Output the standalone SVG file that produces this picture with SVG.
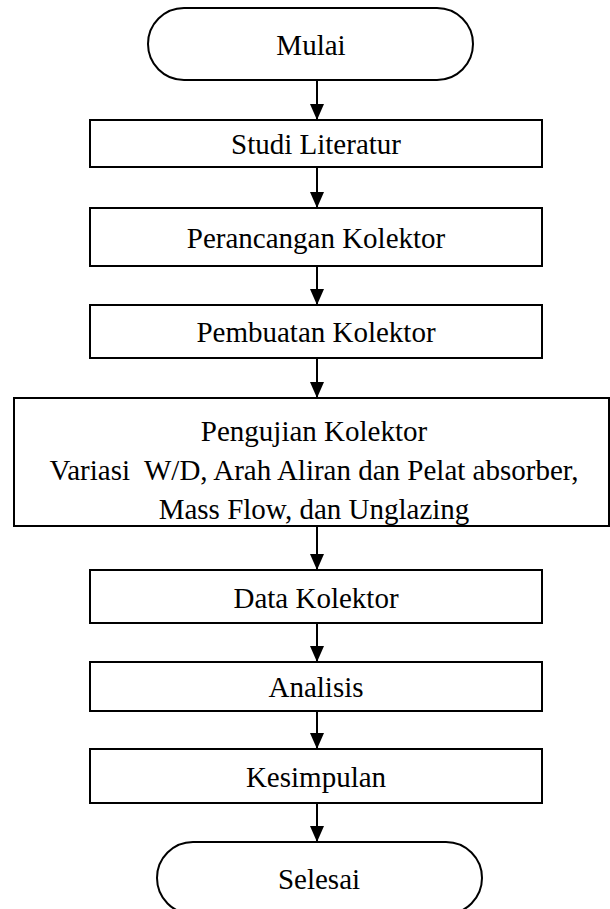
<svg xmlns="http://www.w3.org/2000/svg" width="610" height="909" viewBox="0 0 610 909">
<style>
.box{fill:#fff;stroke:#000;stroke-width:2}
.t{font-family:"Liberation Serif","Times New Roman",serif;font-size:29px;fill:#000;text-anchor:middle}
.c{stroke:#000;stroke-width:2;fill:none}
</style>
<defs>
<marker id="a" markerWidth="16" markerHeight="14" refX="16" refY="7" orient="auto" markerUnits="userSpaceOnUse" viewBox="0 0 16 14">
<path d="M0,0 L16,7 L0,14 Z" fill="#000"/>
</marker>
</defs>
<g id="connectors">
<line class="c" x1="317" y1="80" x2="317" y2="120" marker-end="url(#a)"/>
<line class="c" x1="317" y1="167" x2="317" y2="208" marker-end="url(#a)"/>
<line class="c" x1="317" y1="266" x2="317" y2="305" marker-end="url(#a)"/>
<line class="c" x1="317" y1="358" x2="317" y2="398" marker-end="url(#a)"/>
<line class="c" x1="317" y1="526" x2="317" y2="570" marker-end="url(#a)"/>
<line class="c" x1="317" y1="623" x2="317" y2="662" marker-end="url(#a)"/>
<line class="c" x1="317" y1="711" x2="317" y2="749" marker-end="url(#a)"/>
<line class="c" x1="317" y1="803" x2="317" y2="842" marker-end="url(#a)"/>
</g>
<g id="mulai">
<rect class="box" x="148" y="8" width="325" height="72" rx="36" ry="36"/>
<text class="t" x="311" y="55">Mulai</text>
</g>
<g id="studi">
<rect class="box" x="90" y="120" width="452" height="47"/>
<text class="t" x="316" y="154">Studi Literatur</text>
</g>
<g id="perancangan">
<rect class="box" x="90" y="208" width="452" height="58"/>
<text class="t" x="316" y="248">Perancangan Kolektor</text>
</g>
<g id="pembuatan">
<rect class="box" x="90" y="305" width="452" height="53"/>
<text class="t" x="316" y="342">Pembuatan Kolektor</text>
</g>
<g id="pengujian">
<rect class="box" x="14" y="398" width="595" height="128"/>
<text class="t" x="314" y="441">Pengujian Kolektor</text>
<text class="t" x="314" y="480" xml:space="preserve">Variasi  W/D, Arah Aliran dan Pelat absorber,</text>
<text class="t" x="314" y="519">Mass Flow, dan Unglazing</text>
</g>
<g id="data">
<rect class="box" x="90" y="570" width="452" height="53"/>
<text class="t" x="316" y="608">Data Kolektor</text>
</g>
<g id="analisis">
<rect class="box" x="90" y="662" width="452" height="49"/>
<text class="t" x="316" y="697">Analisis</text>
</g>
<g id="kesimpulan">
<rect class="box" x="90" y="749" width="452" height="54"/>
<text class="t" x="316" y="787">Kesimpulan</text>
</g>
<g id="selesai">
<rect class="box" x="157" y="842" width="325" height="72" rx="36" ry="36"/>
<text class="t" x="319" y="889">Selesai</text>
</g>
</svg>
